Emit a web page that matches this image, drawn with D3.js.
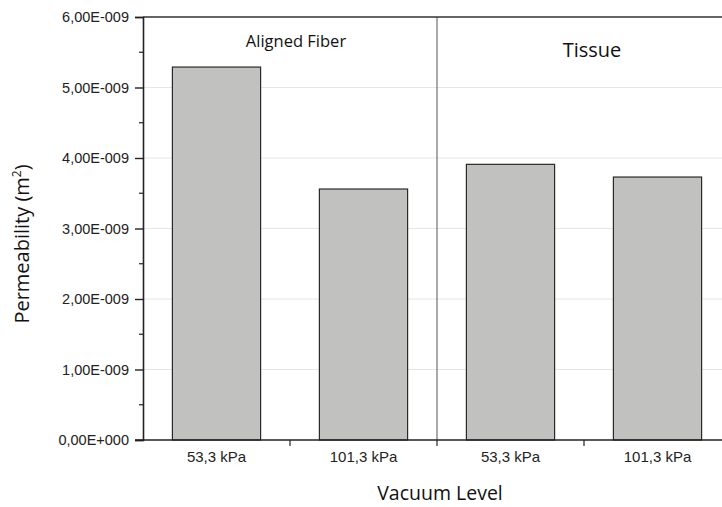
<!DOCTYPE html>
<html>
<head>
<meta charset="utf-8">
<script src="https://cdn.jsdelivr.net/npm/d3@7"></script>
<style>
  body { margin: 0; background: #fff; }
</style>
</head>
<body>
<div id="chart"></div>
<script>
// categories and values
var groups = ['Aligned Fiber', 'Aligned Fiber', 'Tissue', 'Tissue'];
var vacuum = ['53,3 kPa', '101,3 kPa', '53,3 kPa', '101,3 kPa'];
var permeability = [5.29e-9, 3.56e-9, 3.91e-9, 3.73e-9];
var yTicks = [0, 1e-9, 2e-9, 3e-9, 4e-9, 5e-9, 6e-9];
var yTickLabels = ['0,00E+000', '1,00E-009', '2,00E-009', '3,00E-009', '4,00E-009', '5,00E-009', '6,00E-009'];
var groupLabels = ['Aligned Fiber', 'Tissue'];

var width = 722, height = 507;
var plotLeft = 143, plotTop = 17, plotBottom = 440, plotRight = 731;

var svg = d3.select('#chart')
    .append('svg')
    .attr('width', width)
    .attr('height', height);

var ids = vacuum.map((d, i) => i);

var x = d3.scaleBand()
    .domain(ids)
    .range([plotLeft, plotRight])
    .paddingInner(0.4)
    .paddingOuter(0.2);

var y = d3.scaleLinear()
    .domain([0, 6e-9])
    .range([plotBottom, plotTop]);

// light grid at the major ticks
svg.append('g')
    .selectAll('line')
    .data(yTicks.slice(1, -1))
    .join('line')
    .attr('x1', plotLeft).attr('x2', width)
    .attr('y1', d => y(d)).attr('y2', d => y(d))
    .attr('stroke', '#e6e6e6')
    .attr('stroke-width', 1);

// bars
svg.append('g')
    .selectAll('rect')
    .data(permeability)
    .join('rect')
    .attr('x', (d, i) => x(i))
    .attr('y', d => y(d))
    .attr('width', x.bandwidth())
    .attr('height', d => y(0) - y(d))
    .attr('fill', '#c1c2c0')
    .attr('stroke', '#2a2a2a')
    .attr('stroke-width', 1.2);

// divider between groups
var step = x.step();
var mid = plotLeft + step * 2;
svg.append('line')
    .attr('x1', mid).attr('x2', mid)
    .attr('y1', plotTop).attr('y2', plotBottom)
    .attr('stroke', '#555')
    .attr('stroke-width', 1);

// top frame line
svg.append('line')
    .attr('x1', plotLeft).attr('x2', width)
    .attr('y1', plotTop).attr('y2', plotTop)
    .attr('stroke', '#333')
    .attr('stroke-width', 1.5);

// y axis
var yAxis = d3.axisLeft(y)
    .tickValues(yTicks)
    .tickSize(8)
    .tickPadding(6)
    .tickFormat((d, i) => yTickLabels[i]);

var gy = svg.append('g')
    .attr('transform', `translate(${plotLeft},0)`)
    .call(yAxis);
gy.select('.domain').attr('stroke', '#222').attr('stroke-width', 1.6);
gy.selectAll('.tick line').attr('stroke', '#222').attr('stroke-width', 1.4);
gy.selectAll('.tick text')
    .attr('font-family', 'Liberation Sans, Arial, sans-serif')
    .attr('font-size', 14.5)
    .attr('fill', '#222');

// minor y ticks
svg.append('g')
    .selectAll('line')
    .data(yTicks.slice(0, -1).map(d => d + 0.5e-9))
    .join('line')
    .attr('x1', plotLeft - 4).attr('x2', plotLeft)
    .attr('y1', d => y(d)).attr('y2', d => y(d))
    .attr('stroke', '#222')
    .attr('stroke-width', 1.2);

// x axis
var xAxis = d3.axisBottom(x)
    .tickSize(0)
    .tickPadding(11)
    .tickFormat((d, i) => vacuum[i]);

var gx = svg.append('g')
    .attr('transform', `translate(0,${plotBottom})`)
    .call(xAxis);
gx.select('.domain').remove();
gx.selectAll('.tick text')
    .attr('font-family', 'Liberation Sans, Arial, sans-serif')
    .attr('font-size', 15)
    .attr('fill', '#222');

svg.append('line')
    .attr('x1', plotLeft - 8).attr('x2', width)
    .attr('y1', plotBottom).attr('y2', plotBottom)
    .attr('stroke', '#222')
    .attr('stroke-width', 1.6);

// ticks between categories
svg.append('g')
    .selectAll('line')
    .data([1, 2, 3])
    .join('line')
    .attr('x1', d => plotLeft + step * d).attr('x2', d => plotLeft + step * d)
    .attr('y1', plotBottom).attr('y2', plotBottom + 6)
    .attr('stroke', '#222')
    .attr('stroke-width', 1.2);

// group labels
svg.append('text')
    .attr('x', 296)
    .attr('y', 47)
    .attr('text-anchor', 'middle')
    .attr('font-family', 'Open Sans, sans-serif')
    .attr('font-size', 16.5)
    .attr('fill', '#111')
    .text(groupLabels[0]);

svg.append('text')
    .attr('x', 592)
    .attr('y', 57)
    .attr('text-anchor', 'middle')
    .attr('font-family', 'Open Sans, sans-serif')
    .attr('font-size', 20)
    .attr('fill', '#111')
    .text(groupLabels[1]);

// axis titles
svg.append('text')
    .attr('x', 440)
    .attr('y', 500)
    .attr('text-anchor', 'middle')
    .attr('font-family', 'Open Sans, sans-serif')
    .attr('font-size', 19.5)
    .attr('fill', '#111')
    .text('Vacuum Level');

var yt = svg.append('text')
    .attr('transform', `translate(29,244) rotate(-90)`)
    .attr('text-anchor', 'middle')
    .attr('font-family', 'Open Sans, sans-serif')
    .attr('font-size', 20)
    .attr('fill', '#111');
yt.append('tspan').text('Permeability (m');
yt.append('tspan').attr('dy', -8).attr('font-size', 12).text('2');
yt.append('tspan').attr('dy', 8).text(')');
</script>
</body>
</html>
